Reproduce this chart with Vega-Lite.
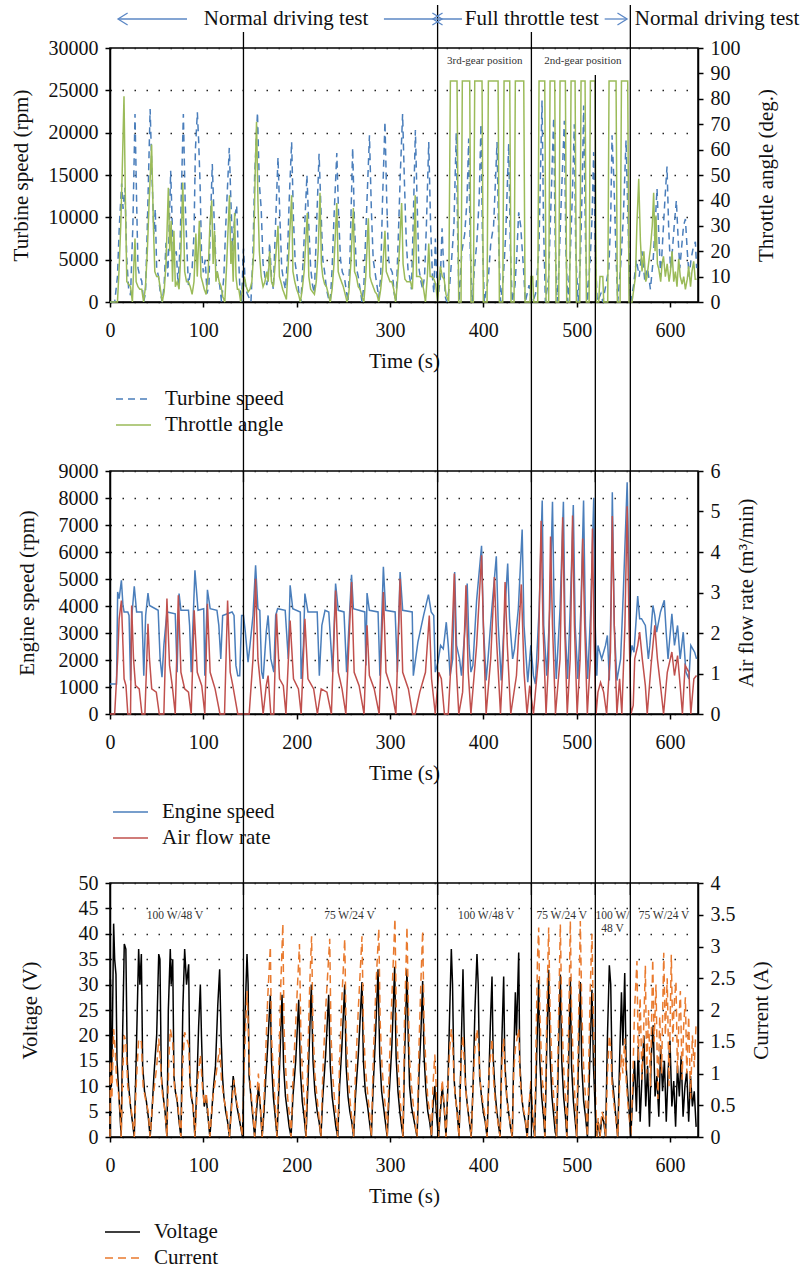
{
"$schema":"https://vega.github.io/schema/vega-lite/v6.json",
"background":"white",
"padding":{"left":9,"top":3,"right":2,"bottom":2},
"bounds":"flush",
"spacing":169,
"resolve":{"scale":{"color":"independent","strokeDash":"independent","shape":"independent"}},
"config":{
 "font":"Liberation Serif",
 "view":{"stroke":"#000","strokeWidth":1.5},
 "axis":{"labelFont":"Liberation Serif","labelFontSize":20,"labelColor":"#111","titleFont":"Liberation Serif","titleFontSize":21,"titleFontWeight":"normal","titleColor":"#111","domainColor":"#000","domainWidth":1.5,"tickColor":"#000","tickWidth":1.5,"tickSize":5,"grid":false,"gridColor":"#222","gridDash":[1.5,10.5],"gridWidth":1.3},
 "axisX":{"labelPadding":13,"titlePadding":10,"labelFlush":false},
 "axisY":{"labelPadding":7,"titlePadding":12},
 "legend":{"title":null,"orient":"none","direction":"vertical","symbolType":"stroke","symbolSize":1225,"symbolStrokeWidth":1.5,"labelFont":"Liberation Serif","labelFontSize":21,"labelColor":"#111","labelOffset":13,"rowPadding":5,"clipHeight":20,"padding":0},
 "text":{"font":"Liberation Serif"}
},
"datasets":{
"ts":[{"t":0,"v":0},{"t":5,"v":0},{"t":8,"v":3000},{"t":10,"v":9000},{"t":12.5,"v":14000},{"t":14,"v":11000},{"t":16,"v":13500},{"t":18,"v":5000},{"t":20,"v":1500},{"t":22,"v":800},{"t":24.5,"v":9000},{"t":26.8,"v":22200},{"t":28.5,"v":12000},{"t":30,"v":4000},{"t":32,"v":3000},{"t":34,"v":2500},{"t":36,"v":0},{"t":38,"v":1000},{"t":40,"v":9000},{"t":43,"v":22800},{"t":45,"v":15000},{"t":47,"v":8000},{"t":48.5,"v":11000},{"t":50,"v":4000},{"t":52,"v":3000},{"t":54,"v":1000},{"t":56,"v":0},{"t":58,"v":2000},{"t":60,"v":7000},{"t":62,"v":3000},{"t":63.5,"v":9000},{"t":65,"v":15500},{"t":67,"v":8000},{"t":69,"v":5000},{"t":71,"v":6000},{"t":73,"v":2000},{"t":75,"v":6500},{"t":78.6,"v":22200},{"t":80.5,"v":12000},{"t":82.5,"v":6000},{"t":84,"v":2000},{"t":86,"v":3500},{"t":88,"v":4000},{"t":90,"v":8000},{"t":91.5,"v":18000},{"t":93.6,"v":22400},{"t":95,"v":19000},{"t":96.5,"v":14000},{"t":98,"v":6000},{"t":100,"v":3500},{"t":102,"v":5000},{"t":104,"v":1000},{"t":106,"v":2000},{"t":107.5,"v":9000},{"t":109.6,"v":16300},{"t":111.5,"v":10000},{"t":113.5,"v":4500},{"t":115.5,"v":3000},{"t":117.5,"v":2000},{"t":119.5,"v":0},{"t":122,"v":3000},{"t":124,"v":9000},{"t":127.8,"v":18200},{"t":129.5,"v":12000},{"t":131.5,"v":6000},{"t":133.5,"v":10000},{"t":135.7,"v":11400},{"t":137.5,"v":6000},{"t":139,"v":2000},{"t":141,"v":0},{"t":143,"v":6300},{"t":145,"v":2000},{"t":147,"v":1000},{"t":149,"v":500},{"t":151,"v":0},{"t":153,"v":5000},{"t":155,"v":15000},{"t":158,"v":22400},{"t":160,"v":14000},{"t":162,"v":11000},{"t":164,"v":4500},{"t":166,"v":3000},{"t":168,"v":2000},{"t":170,"v":4000},{"t":171,"v":7000},{"t":173,"v":3000},{"t":175,"v":1500},{"t":177,"v":8000},{"t":180,"v":17100},{"t":182,"v":10000},{"t":184,"v":4000},{"t":186,"v":2500},{"t":188,"v":1500},{"t":190,"v":5000},{"t":192,"v":12000},{"t":194.6,"v":18900},{"t":196.5,"v":10000},{"t":198.5,"v":4500},{"t":200.5,"v":3000},{"t":202.5,"v":1000},{"t":204.5,"v":0},{"t":207,"v":5000},{"t":209,"v":10000},{"t":211,"v":15000},{"t":213,"v":9000},{"t":215,"v":4000},{"t":217,"v":2000},{"t":219,"v":1000},{"t":221,"v":8000},{"t":224,"v":17500},{"t":226,"v":11000},{"t":228,"v":5000},{"t":230,"v":3500},{"t":232,"v":1500},{"t":234,"v":500},{"t":236,"v":0},{"t":238,"v":4000},{"t":240,"v":10000},{"t":243,"v":17600},{"t":245,"v":10000},{"t":247,"v":5000},{"t":249,"v":3500},{"t":251,"v":3000},{"t":253,"v":1500},{"t":255,"v":0},{"t":257,"v":5000},{"t":260,"v":18200},{"t":262,"v":9000},{"t":264,"v":4000},{"t":266,"v":3000},{"t":268,"v":1500},{"t":270,"v":0},{"t":272,"v":2000},{"t":274,"v":8000},{"t":278,"v":19700},{"t":280,"v":11000},{"t":282,"v":5000},{"t":284,"v":3500},{"t":286,"v":2000},{"t":288,"v":500},{"t":290,"v":3000},{"t":292,"v":12000},{"t":294.6,"v":21300},{"t":296.5,"v":12000},{"t":298.5,"v":5000},{"t":300.5,"v":4000},{"t":302.5,"v":3500},{"t":304.5,"v":1000},{"t":306.5,"v":0},{"t":309,"v":8000},{"t":311,"v":15000},{"t":313.5,"v":22200},{"t":315.5,"v":14000},{"t":317.5,"v":7000},{"t":319.5,"v":3500},{"t":321,"v":3000},{"t":323,"v":1500},{"t":325,"v":10000},{"t":327.2,"v":20300},{"t":329,"v":12000},{"t":331,"v":4000},{"t":333,"v":2500},{"t":335,"v":1500},{"t":337,"v":3000},{"t":339,"v":9000},{"t":341.5,"v":18900},{"t":343.5,"v":9000},{"t":345.5,"v":3000},{"t":347,"v":1000},{"t":348.6,"v":7500},{"t":350,"v":3000},{"t":352,"v":1000},{"t":354,"v":3000},{"t":355.8,"v":8700},{"t":357.5,"v":4000},{"t":359.5,"v":500},{"t":361,"v":0},{"t":364,"v":2000},{"t":366,"v":5000},{"t":368.5,"v":9000},{"t":371,"v":20000},{"t":372.5,"v":8000},{"t":374,"v":0},{"t":377,"v":6000},{"t":380,"v":8000},{"t":382.5,"v":12000},{"t":384.3,"v":19300},{"t":386,"v":6000},{"t":388,"v":0},{"t":390.5,"v":4000},{"t":393,"v":7000},{"t":395.5,"v":12000},{"t":397.5,"v":21000},{"t":399,"v":8000},{"t":401,"v":0},{"t":405.5,"v":3000},{"t":408,"v":7000},{"t":411,"v":9000},{"t":414.7,"v":18900},{"t":416.5,"v":7000},{"t":418.5,"v":0},{"t":421.5,"v":3000},{"t":424,"v":8000},{"t":427.2,"v":18700},{"t":429,"v":6000},{"t":431,"v":0},{"t":434,"v":2000},{"t":436,"v":6000},{"t":437.9,"v":10600},{"t":440,"v":9000},{"t":443,"v":4000},{"t":445,"v":0},{"t":447,"v":1000},{"t":449,"v":2000},{"t":451,"v":500},{"t":453,"v":0},{"t":456,"v":1000},{"t":459.5,"v":6000},{"t":461,"v":14000},{"t":462.9,"v":23800},{"t":464.5,"v":9000},{"t":466.5,"v":0},{"t":470,"v":3000},{"t":472,"v":10000},{"t":475.4,"v":21800},{"t":477,"v":7000},{"t":479,"v":0},{"t":481,"v":4000},{"t":483.5,"v":12000},{"t":486.8,"v":21400},{"t":488.5,"v":6000},{"t":490.5,"v":0},{"t":493,"v":5000},{"t":495.5,"v":13000},{"t":497.5,"v":21000},{"t":499,"v":6000},{"t":501.5,"v":0},{"t":504,"v":5000},{"t":506,"v":14000},{"t":507.5,"v":23200},{"t":509.5,"v":7000},{"t":511.5,"v":0},{"t":514.5,"v":5000},{"t":516.5,"v":10000},{"t":518.2,"v":17700},{"t":520,"v":6000},{"t":522,"v":0},{"t":526,"v":1000},{"t":528,"v":0},{"t":534.5,"v":4000},{"t":536.5,"v":10000},{"t":537.9,"v":19700},{"t":540,"v":14000},{"t":542,"v":6000},{"t":544,"v":0},{"t":547,"v":4000},{"t":550,"v":10000},{"t":552.9,"v":19100},{"t":554.5,"v":12000},{"t":556.5,"v":3000},{"t":558,"v":0},{"t":561,"v":2000},{"t":564,"v":5000},{"t":567,"v":3000},{"t":570,"v":6000},{"t":573,"v":2500},{"t":576,"v":4000},{"t":579,"v":1500},{"t":582,"v":5000},{"t":584,"v":9000},{"t":586.1,"v":13400},{"t":588,"v":8000},{"t":590,"v":3000},{"t":592,"v":7000},{"t":594.5,"v":12000},{"t":596.8,"v":16000},{"t":598.5,"v":9000},{"t":600.5,"v":4000},{"t":602.5,"v":6000},{"t":604.5,"v":9000},{"t":606.8,"v":12000},{"t":608.5,"v":8000},{"t":610.5,"v":4000},{"t":612.5,"v":6500},{"t":614.5,"v":9000},{"t":616.5,"v":9800},{"t":618.5,"v":6000},{"t":620.5,"v":3000},{"t":622.5,"v":5000},{"t":625,"v":6500},{"t":627.2,"v":7100},{"t":628.5,"v":4000}],
"ta":[{"t":0,"v":0},{"t":8,"v":0},{"t":10,"v":15},{"t":11.5,"v":30},{"t":13,"v":50},{"t":15,"v":81},{"t":16.5,"v":40},{"t":18,"v":8},{"t":20,"v":7},{"t":22,"v":6},{"t":24,"v":0},{"t":25,"v":10},{"t":26.8,"v":25},{"t":28,"v":8},{"t":30,"v":6},{"t":32,"v":5},{"t":34,"v":5},{"t":36,"v":0},{"t":38,"v":6},{"t":40,"v":20},{"t":42,"v":40},{"t":44.6,"v":62},{"t":46.5,"v":30},{"t":48,"v":12},{"t":50,"v":10},{"t":52,"v":10},{"t":54,"v":5},{"t":56,"v":0},{"t":58,"v":4},{"t":60,"v":15},{"t":62.5,"v":45},{"t":64,"v":20},{"t":65.5,"v":32},{"t":67,"v":8},{"t":68.5,"v":28},{"t":70,"v":6},{"t":72,"v":8},{"t":74,"v":5},{"t":76,"v":20},{"t":78,"v":47},{"t":80,"v":12},{"t":82,"v":8},{"t":84,"v":8},{"t":86,"v":6},{"t":88,"v":3},{"t":90,"v":8},{"t":92,"v":27},{"t":93.5,"v":10},{"t":95.7,"v":32},{"t":97.5,"v":10},{"t":99,"v":8},{"t":101,"v":5},{"t":103,"v":3},{"t":105,"v":10},{"t":107,"v":30},{"t":109,"v":40},{"t":110.5,"v":15},{"t":112,"v":28},{"t":113.5,"v":8},{"t":115,"v":12},{"t":117,"v":8},{"t":119,"v":6},{"t":121,"v":2},{"t":123,"v":0},{"t":125,"v":15},{"t":128,"v":42},{"t":129.5,"v":15},{"t":130.5,"v":24},{"t":132,"v":8},{"t":133.5,"v":35},{"t":135,"v":10},{"t":136.5,"v":5},{"t":138,"v":5},{"t":140,"v":0},{"t":142,"v":5},{"t":144,"v":10},{"t":146,"v":6},{"t":148,"v":4},{"t":150,"v":5},{"t":152,"v":8},{"t":154,"v":20},{"t":155.5,"v":50},{"t":157,"v":71},{"t":158.5,"v":40},{"t":160,"v":20},{"t":162,"v":10},{"t":164,"v":6},{"t":166,"v":8},{"t":168,"v":12},{"t":169.5,"v":8},{"t":171,"v":20},{"t":173,"v":8},{"t":175,"v":6},{"t":177,"v":15},{"t":180,"v":30},{"t":181.5,"v":10},{"t":183,"v":8},{"t":185,"v":5},{"t":187,"v":3},{"t":189,"v":1},{"t":191,"v":15},{"t":194.6,"v":42},{"t":196,"v":12},{"t":198,"v":8},{"t":200,"v":5},{"t":202,"v":3},{"t":204,"v":0},{"t":206,"v":5},{"t":208,"v":12},{"t":211.4,"v":35},{"t":213,"v":10},{"t":215,"v":5},{"t":217,"v":4},{"t":219,"v":3},{"t":221,"v":8},{"t":223,"v":20},{"t":225,"v":43},{"t":226.5,"v":15},{"t":228,"v":10},{"t":230,"v":7},{"t":232,"v":6},{"t":234,"v":3},{"t":236,"v":0},{"t":238,"v":5},{"t":240,"v":15},{"t":243,"v":39},{"t":244.5,"v":12},{"t":246,"v":10},{"t":248,"v":8},{"t":250,"v":6},{"t":252,"v":3},{"t":254,"v":0},{"t":256,"v":4},{"t":258,"v":15},{"t":260.7,"v":37},{"t":262,"v":12},{"t":264,"v":10},{"t":266,"v":6},{"t":268,"v":5},{"t":270,"v":2},{"t":272,"v":0},{"t":274,"v":10},{"t":276.8,"v":33},{"t":278.5,"v":10},{"t":280,"v":8},{"t":282,"v":6},{"t":284,"v":4},{"t":286,"v":3},{"t":288,"v":0},{"t":290,"v":5},{"t":292,"v":12},{"t":294.6,"v":28},{"t":296,"v":12},{"t":298,"v":10},{"t":300,"v":8},{"t":302,"v":8},{"t":304,"v":5},{"t":306,"v":0},{"t":308,"v":8},{"t":310,"v":20},{"t":312.5,"v":39},{"t":314,"v":15},{"t":316,"v":9},{"t":318,"v":8},{"t":320,"v":8},{"t":322,"v":8},{"t":324,"v":5},{"t":325.5,"v":20},{"t":327,"v":42},{"t":328.5,"v":10},{"t":330,"v":10},{"t":332,"v":10},{"t":334,"v":9},{"t":336,"v":5},{"t":338,"v":0},{"t":340,"v":10},{"t":341.5,"v":23},{"t":343,"v":10},{"t":345,"v":10},{"t":347,"v":9},{"t":349,"v":7},{"t":351,"v":0},{"t":352.5,"v":8},{"t":354,"v":14},{"t":356,"v":10},{"t":358,"v":9},{"t":360,"v":3},{"t":362.9,"v":0},{"t":364.7,"v":87},{"t":371.8,"v":87},{"t":373.6,"v":0},{"t":376.1,"v":0},{"t":377.5,"v":87},{"t":385.4,"v":87},{"t":386.8,"v":0},{"t":389.3,"v":0},{"t":390.8,"v":87},{"t":398.6,"v":87},{"t":400,"v":0},{"t":404,"v":0},{"t":405.4,"v":87},{"t":415.8,"v":87},{"t":417.2,"v":0},{"t":420.8,"v":0},{"t":422.2,"v":87},{"t":428.3,"v":87},{"t":429.7,"v":0},{"t":432.9,"v":0},{"t":434.3,"v":87},{"t":443.3,"v":87},{"t":444.7,"v":0},{"t":450,"v":0},{"t":451,"v":10},{"t":452.9,"v":10},{"t":454,"v":0},{"t":458.3,"v":0},{"t":459.7,"v":87},{"t":465.8,"v":87},{"t":467.2,"v":0},{"t":470,"v":0},{"t":471.5,"v":87},{"t":476.5,"v":87},{"t":477.9,"v":0},{"t":480.8,"v":0},{"t":482.2,"v":87},{"t":487.9,"v":87},{"t":489.3,"v":0},{"t":492.5,"v":0},{"t":494,"v":87},{"t":498.3,"v":87},{"t":499.7,"v":0},{"t":503.3,"v":0},{"t":504.7,"v":87},{"t":509,"v":87},{"t":510.4,"v":0},{"t":513.3,"v":0},{"t":514.7,"v":87},{"t":519.7,"v":87},{"t":521.1,"v":0},{"t":523.6,"v":0},{"t":525,"v":10},{"t":528,"v":10},{"t":529,"v":0},{"t":533.3,"v":0},{"t":534.7,"v":87},{"t":542.2,"v":87},{"t":543.6,"v":0},{"t":546.5,"v":0},{"t":548,"v":87},{"t":554.7,"v":87},{"t":556.1,"v":0},{"t":559.3,"v":0},{"t":563,"v":10},{"t":564.5,"v":30},{"t":566.5,"v":48.5},{"t":568.3,"v":24},{"t":570,"v":12},{"t":572,"v":20},{"t":574,"v":8},{"t":575.4,"v":10},{"t":577,"v":15},{"t":579,"v":21},{"t":581,"v":30},{"t":582.5,"v":43},{"t":584,"v":20},{"t":585,"v":34},{"t":586.5,"v":15},{"t":588,"v":13},{"t":590,"v":8},{"t":591.5,"v":15},{"t":593,"v":18},{"t":595,"v":10},{"t":597,"v":15},{"t":599,"v":8},{"t":600.5,"v":12},{"t":602.2,"v":20},{"t":604,"v":8},{"t":605.8,"v":12},{"t":607.5,"v":6},{"t":609.3,"v":17},{"t":611,"v":10},{"t":613,"v":7},{"t":614.7,"v":10},{"t":616.5,"v":5},{"t":618.5,"v":9},{"t":620,"v":14},{"t":622,"v":6},{"t":623.5,"v":12},{"t":625.4,"v":16},{"t":627,"v":9},{"t":628.5,"v":9}],
"es":[{"t":0,"v":1110},{"t":2.9,"v":1110},{"t":7,"v":1110},{"t":8.2,"v":4520},{"t":9.8,"v":4270},{"t":12.2,"v":4950},{"t":13.9,"v":4020},{"t":15.1,"v":3780},{"t":19.1,"v":3780},{"t":20.4,"v":3650},{"t":22,"v":1240},{"t":23.2,"v":3530},{"t":26,"v":4730},{"t":28.5,"v":3780},{"t":34.2,"v":3780},{"t":36.2,"v":1420},{"t":38.2,"v":3650},{"t":40.7,"v":4480},{"t":42.3,"v":4020},{"t":51.6,"v":3840},{"t":53.7,"v":2040},{"t":55.7,"v":1360},{"t":57.7,"v":2540},{"t":61,"v":3780},{"t":69.9,"v":3710},{"t":71.9,"v":1550},{"t":74,"v":4460},{"t":76,"v":3840},{"t":84.1,"v":3840},{"t":85.3,"v":3280},{"t":87,"v":1550},{"t":91,"v":5320},{"t":94.3,"v":3840},{"t":100.4,"v":3900},{"t":101.6,"v":1420},{"t":104.4,"v":4600},{"t":107.3,"v":3900},{"t":114.6,"v":3840},{"t":116.6,"v":3280},{"t":118.7,"v":2040},{"t":120.7,"v":3650},{"t":130.8,"v":3780},{"t":132.9,"v":3650},{"t":134.9,"v":1800},{"t":136.9,"v":1420},{"t":139,"v":1420},{"t":141,"v":3650},{"t":143,"v":3650},{"t":145,"v":3030},{"t":147.9,"v":1920},{"t":150,"v":2540},{"t":153.2,"v":3650},{"t":156,"v":5510},{"t":158.5,"v":3900},{"t":160.5,"v":3840},{"t":162.5,"v":1550},{"t":164.1,"v":1300},{"t":167.4,"v":3030},{"t":169.4,"v":3650},{"t":172.3,"v":2040},{"t":175.5,"v":1550},{"t":177.5,"v":3650},{"t":179.6,"v":3900},{"t":187.7,"v":3840},{"t":191,"v":2040},{"t":193,"v":4770},{"t":195.8,"v":3900},{"t":203.9,"v":3780},{"t":204.8,"v":1300},{"t":207.2,"v":2540},{"t":208.8,"v":4460},{"t":212.1,"v":3780},{"t":222,"v":3780},{"t":224.3,"v":1420},{"t":227,"v":3280},{"t":230.4,"v":3840},{"t":234.4,"v":3780},{"t":238.5,"v":1550},{"t":241.7,"v":4830},{"t":244.6,"v":3840},{"t":250.7,"v":3780},{"t":253.5,"v":1550},{"t":258.8,"v":5160},{"t":260.8,"v":3900},{"t":273,"v":3780},{"t":274.2,"v":1800},{"t":275.4,"v":4480},{"t":277.9,"v":3840},{"t":287.2,"v":3780},{"t":289.2,"v":1420},{"t":292.9,"v":5450},{"t":295.3,"v":3840},{"t":305.5,"v":3780},{"t":307.9,"v":1550},{"t":310.8,"v":5260},{"t":313.6,"v":3840},{"t":323.8,"v":3780},{"t":325,"v":1420},{"t":329.9,"v":2660},{"t":336,"v":3650},{"t":341.2,"v":4420},{"t":344.1,"v":3780},{"t":346.9,"v":3650},{"t":348.5,"v":1550},{"t":351.4,"v":1920},{"t":354.2,"v":2540},{"t":357.1,"v":2410},{"t":360.3,"v":3400},{"t":362.4,"v":2540},{"t":364.4,"v":1420},{"t":367.2,"v":2040},{"t":369.3,"v":5260},{"t":371.3,"v":2540},{"t":374.5,"v":2040},{"t":376.6,"v":1420},{"t":380.6,"v":3280},{"t":382.7,"v":4830},{"t":384.7,"v":2540},{"t":386.7,"v":1550},{"t":388.8,"v":1800},{"t":392.8,"v":4210},{"t":398.1,"v":6230},{"t":400.1,"v":3280},{"t":403,"v":1240},{"t":405,"v":2040},{"t":409.1,"v":3900},{"t":413.9,"v":5840},{"t":416,"v":3280},{"t":419.2,"v":1240},{"t":422.1,"v":3280},{"t":426.1,"v":5570},{"t":428.1,"v":3530},{"t":431.4,"v":2040},{"t":433.4,"v":2410},{"t":437.5,"v":3900},{"t":441.6,"v":6830},{"t":443.6,"v":3280},{"t":447.6,"v":1180},{"t":450.9,"v":2540},{"t":453.7,"v":1420},{"t":455.8,"v":1110},{"t":459.8,"v":3900},{"t":463.1,"v":7910},{"t":464.7,"v":3280},{"t":468,"v":1420},{"t":471.2,"v":3900},{"t":474.1,"v":7860},{"t":476.1,"v":3280},{"t":478.1,"v":1300},{"t":482.2,"v":3900},{"t":485.8,"v":7860},{"t":487.5,"v":3280},{"t":490.3,"v":1300},{"t":493.1,"v":3900},{"t":496.4,"v":7740},{"t":498.4,"v":3280},{"t":501.3,"v":1300},{"t":504.5,"v":3900},{"t":507.4,"v":7910},{"t":509.4,"v":3280},{"t":511.8,"v":1300},{"t":515.1,"v":3900},{"t":518.3,"v":8010},{"t":519.9,"v":3280},{"t":521.6,"v":1420},{"t":522.8,"v":2540},{"t":526.8,"v":2040},{"t":530.9,"v":2540},{"t":532.9,"v":2910},{"t":535,"v":1240},{"t":537,"v":4520},{"t":538.2,"v":8210},{"t":540.3,"v":3280},{"t":543.1,"v":1240},{"t":547.1,"v":2040},{"t":550,"v":4520},{"t":554.1,"v":8580},{"t":555.7,"v":5760},{"t":557.3,"v":2040},{"t":559.3,"v":2540},{"t":561.4,"v":2290},{"t":565.4,"v":4370},{"t":567.5,"v":3530},{"t":569.5,"v":3530},{"t":573.6,"v":3280},{"t":576.8,"v":2040},{"t":578.4,"v":2540},{"t":581.7,"v":4020},{"t":583.7,"v":3650},{"t":585.7,"v":3030},{"t":589.8,"v":3780},{"t":593.9,"v":4210},{"t":595.9,"v":3030},{"t":597.9,"v":2040},{"t":602,"v":3710},{"t":604.8,"v":2540},{"t":608.1,"v":3280},{"t":610.9,"v":2040},{"t":614.2,"v":3030},{"t":617,"v":1550},{"t":620.3,"v":1300},{"t":622.3,"v":2540},{"t":626.4,"v":2290},{"t":628.4,"v":2040}],
"af":[{"t":0,"v":0},{"t":5,"v":0},{"t":8.2,"v":1.36},{"t":9.8,"v":2.35},{"t":12.2,"v":2.8},{"t":13.9,"v":1.69},{"t":15.1,"v":0.87},{"t":17.1,"v":0.7},{"t":19.1,"v":0},{"t":22,"v":0},{"t":23.2,"v":2.68},{"t":25.2,"v":1.36},{"t":27.3,"v":0.7},{"t":31.3,"v":0.62},{"t":34.2,"v":0},{"t":37.4,"v":0},{"t":40.7,"v":2.23},{"t":42.3,"v":1.36},{"t":44.7,"v":0.62},{"t":49.6,"v":0.54},{"t":52.8,"v":0},{"t":57.7,"v":0},{"t":61,"v":2.85},{"t":63.8,"v":1.2},{"t":66.7,"v":0.7},{"t":69.9,"v":0},{"t":73.2,"v":2.93},{"t":76,"v":1.03},{"t":80,"v":0.62},{"t":84.1,"v":0.54},{"t":87,"v":0},{"t":90.2,"v":2.56},{"t":93.5,"v":1.03},{"t":98.3,"v":0.7},{"t":101.6,"v":0},{"t":104.4,"v":2.72},{"t":107.3,"v":1.03},{"t":112.6,"v":0.62},{"t":117.8,"v":0},{"t":122.7,"v":0},{"t":126,"v":2.8},{"t":128.8,"v":1.03},{"t":131.6,"v":0.7},{"t":136.9,"v":0},{"t":149.1,"v":0},{"t":153.2,"v":1.36},{"t":156,"v":3.34},{"t":158.5,"v":1.36},{"t":161.3,"v":0.7},{"t":164.1,"v":0},{"t":167.4,"v":0.7},{"t":169.4,"v":0.95},{"t":172.3,"v":0},{"t":175.5,"v":0},{"t":178.4,"v":2.48},{"t":181.6,"v":0.87},{"t":185.7,"v":0.7},{"t":188.5,"v":0},{"t":193,"v":2.31},{"t":196.6,"v":0.87},{"t":201.9,"v":0.62},{"t":204.8,"v":0},{"t":208.8,"v":2.35},{"t":212.1,"v":0.87},{"t":218.2,"v":0.62},{"t":222.2,"v":0},{"t":226.3,"v":0.62},{"t":232.4,"v":0.54},{"t":237.2,"v":0},{"t":241.7,"v":3.05},{"t":244.6,"v":1.03},{"t":248.6,"v":0.62},{"t":252.7,"v":0},{"t":258.8,"v":3.26},{"t":261.6,"v":1.03},{"t":266.9,"v":0.7},{"t":272.2,"v":0},{"t":275.4,"v":2.19},{"t":277.9,"v":0.95},{"t":283.1,"v":0.62},{"t":288.4,"v":0},{"t":292.9,"v":3.01},{"t":295.7,"v":1.03},{"t":301.4,"v":0.62},{"t":306.3,"v":0},{"t":310.8,"v":3.34},{"t":313.6,"v":1.03},{"t":319.7,"v":0.62},{"t":324.2,"v":0},{"t":327,"v":0},{"t":331.9,"v":0.54},{"t":338,"v":1.03},{"t":342.1,"v":2.43},{"t":344.5,"v":0.87},{"t":348.5,"v":0},{"t":352.2,"v":1.03},{"t":355,"v":0.87},{"t":358.3,"v":0},{"t":362.4,"v":0},{"t":365.6,"v":1.36},{"t":368.9,"v":3.47},{"t":371.3,"v":1.03},{"t":373.7,"v":0},{"t":377.8,"v":0.54},{"t":381.4,"v":3.18},{"t":383.8,"v":1.03},{"t":386.7,"v":0},{"t":392.8,"v":1.69},{"t":398.1,"v":3.92},{"t":400.6,"v":1.69},{"t":403,"v":0},{"t":407.9,"v":1.36},{"t":411.9,"v":3.38},{"t":414.3,"v":1.77},{"t":418.4,"v":0},{"t":421.2,"v":1.36},{"t":423.3,"v":3.26},{"t":425.7,"v":1.69},{"t":429.4,"v":0},{"t":435.5,"v":0.95},{"t":440.7,"v":3.2},{"t":443.6,"v":1.03},{"t":446.8,"v":0},{"t":449.7,"v":0.7},{"t":453.7,"v":0},{"t":459,"v":1.36},{"t":461.9,"v":4.77},{"t":463.9,"v":2.19},{"t":467.2,"v":0},{"t":470,"v":1.36},{"t":472,"v":4.38},{"t":474.1,"v":2.19},{"t":477.3,"v":0},{"t":482.2,"v":1.36},{"t":485,"v":4.86},{"t":487.1,"v":2.19},{"t":489.9,"v":0},{"t":493.1,"v":1.36},{"t":495.6,"v":4.9},{"t":497.6,"v":2.19},{"t":500.5,"v":0},{"t":503.7,"v":1.36},{"t":506.5,"v":4.33},{"t":508.6,"v":2.19},{"t":511.4,"v":0},{"t":514.7,"v":1.36},{"t":516.9,"v":4.58},{"t":518.7,"v":1.77},{"t":520.8,"v":0},{"t":522.8,"v":0.54},{"t":525.6,"v":0.78},{"t":528.9,"v":0.54},{"t":532.1,"v":0},{"t":536.2,"v":1.53},{"t":538.2,"v":4.89},{"t":540.3,"v":2.19},{"t":543.1,"v":0},{"t":546,"v":0.87},{"t":548.4,"v":0},{"t":551.7,"v":2.19},{"t":554.1,"v":5.13},{"t":556.1,"v":2.19},{"t":558.1,"v":0},{"t":560.6,"v":0.21},{"t":562.2,"v":1.36},{"t":565.4,"v":1.69},{"t":567.5,"v":2.02},{"t":570.3,"v":1.36},{"t":573.6,"v":0.7},{"t":575.6,"v":0},{"t":579.7,"v":1.2},{"t":583.7,"v":2.19},{"t":586.5,"v":1.36},{"t":589.8,"v":0.7},{"t":593.1,"v":0},{"t":597.1,"v":1.03},{"t":602,"v":1.53},{"t":604.8,"v":0.95},{"t":608.1,"v":1.44},{"t":610.9,"v":0.7},{"t":613.3,"v":0},{"t":616.2,"v":1.2},{"t":620.3,"v":1.03},{"t":622.3,"v":0},{"t":625.6,"v":0.87},{"t":628.4,"v":0.95}],
"vo":[{"t":0,"v":0},{"t":0.5,"v":31},{"t":1.5,"v":10},{"t":2.5,"v":20},{"t":3.9,"v":42},{"t":5,"v":35},{"t":6.4,"v":32},{"t":7.5,"v":15},{"t":9,"v":10},{"t":10.5,"v":5},{"t":12,"v":0},{"t":13.5,"v":20},{"t":15.3,"v":38},{"t":17,"v":37},{"t":18.5,"v":15},{"t":20,"v":10},{"t":22,"v":6},{"t":24,"v":3},{"t":26,"v":0},{"t":28,"v":15},{"t":30.7,"v":37},{"t":32,"v":30},{"t":33.6,"v":36},{"t":35,"v":14},{"t":37,"v":9},{"t":39,"v":7},{"t":41,"v":4},{"t":43,"v":0},{"t":45,"v":5},{"t":47,"v":12},{"t":50,"v":20},{"t":52.2,"v":36},{"t":53.5,"v":35},{"t":55,"v":12},{"t":57,"v":8},{"t":59,"v":5},{"t":61,"v":0},{"t":62.5,"v":25},{"t":64.6,"v":37},{"t":65.5,"v":30},{"t":67.2,"v":35},{"t":68.5,"v":12},{"t":70,"v":9},{"t":72,"v":7},{"t":74,"v":3},{"t":76,"v":0},{"t":78,"v":25},{"t":80,"v":37},{"t":82,"v":30},{"t":84.3,"v":34},{"t":85.5,"v":12},{"t":87,"v":8},{"t":89,"v":6},{"t":91,"v":0},{"t":93,"v":10},{"t":95,"v":22},{"t":96.8,"v":30},{"t":98,"v":20},{"t":99.5,"v":10},{"t":101,"v":6},{"t":103,"v":8},{"t":105,"v":4},{"t":107,"v":0},{"t":109,"v":5},{"t":111,"v":10},{"t":113,"v":14},{"t":115.5,"v":26},{"t":117.5,"v":33},{"t":119,"v":20},{"t":120.5,"v":12},{"t":122,"v":8},{"t":124,"v":5},{"t":126,"v":3},{"t":128,"v":0},{"t":130,"v":6},{"t":132,"v":12},{"t":134,"v":9},{"t":136,"v":6},{"t":138,"v":4},{"t":140,"v":2},{"t":142,"v":0},{"t":144,"v":20},{"t":146.8,"v":36},{"t":148,"v":30},{"t":149,"v":12},{"t":151,"v":8},{"t":153,"v":4},{"t":155,"v":0},{"t":157,"v":5},{"t":159,"v":10},{"t":161,"v":6},{"t":163,"v":0},{"t":165,"v":5},{"t":167,"v":12},{"t":169,"v":18},{"t":171.8,"v":28},{"t":173,"v":15},{"t":175,"v":8},{"t":177,"v":4},{"t":179,"v":0},{"t":181,"v":10},{"t":184.3,"v":28},{"t":186,"v":14},{"t":188,"v":8},{"t":190,"v":5},{"t":192,"v":2},{"t":194,"v":0},{"t":196,"v":8},{"t":199,"v":15},{"t":202.2,"v":27},{"t":204,"v":13},{"t":206,"v":7},{"t":208,"v":4},{"t":210,"v":0},{"t":212,"v":10},{"t":215.7,"v":30},{"t":217.5,"v":15},{"t":219.5,"v":9},{"t":222,"v":5},{"t":224,"v":3},{"t":226,"v":0},{"t":228,"v":8},{"t":231,"v":16},{"t":234.3,"v":28},{"t":236,"v":14},{"t":238,"v":8},{"t":240,"v":5},{"t":242,"v":2},{"t":244,"v":0},{"t":246,"v":10},{"t":248.5,"v":18},{"t":251.5,"v":30},{"t":253,"v":14},{"t":255,"v":8},{"t":257,"v":5},{"t":259,"v":3},{"t":261,"v":0},{"t":263,"v":8},{"t":266,"v":16},{"t":270,"v":30.5},{"t":271.5,"v":15},{"t":273.5,"v":9},{"t":276,"v":6},{"t":278,"v":3},{"t":280,"v":0},{"t":282,"v":10},{"t":284.5,"v":20},{"t":287.2,"v":33},{"t":289,"v":16},{"t":291,"v":9},{"t":293,"v":6},{"t":295,"v":3},{"t":297,"v":0},{"t":299,"v":8},{"t":302,"v":18},{"t":305,"v":33.5},{"t":306.5,"v":16},{"t":308.5,"v":9},{"t":310.5,"v":5},{"t":312.5,"v":2},{"t":314,"v":0},{"t":315.5,"v":15},{"t":318.2,"v":33},{"t":319.5,"v":20},{"t":321,"v":10},{"t":323,"v":6},{"t":325,"v":4},{"t":327,"v":2},{"t":329,"v":0},{"t":331,"v":12},{"t":333,"v":20},{"t":335,"v":30.7},{"t":336.5,"v":16},{"t":338.5,"v":9},{"t":340.5,"v":5},{"t":342.5,"v":3},{"t":344.5,"v":0},{"t":346,"v":6},{"t":348,"v":10},{"t":350,"v":4},{"t":352,"v":0},{"t":354,"v":5},{"t":356,"v":10},{"t":358,"v":6},{"t":360,"v":0},{"t":362,"v":10},{"t":364,"v":25},{"t":365.7,"v":37},{"t":367,"v":30},{"t":368.5,"v":12},{"t":370,"v":8},{"t":372,"v":5},{"t":374,"v":0},{"t":376,"v":15},{"t":378.2,"v":33},{"t":379.5,"v":20},{"t":381,"v":10},{"t":383,"v":6},{"t":385,"v":3},{"t":387,"v":0},{"t":389,"v":10},{"t":391,"v":25},{"t":393.2,"v":36},{"t":394.5,"v":30},{"t":396,"v":12},{"t":398,"v":8},{"t":400,"v":5},{"t":402,"v":3},{"t":404,"v":0},{"t":406,"v":12},{"t":407.5,"v":22},{"t":409.3,"v":31.6},{"t":410.5,"v":16},{"t":412.5,"v":9},{"t":414.5,"v":5},{"t":416.5,"v":2},{"t":418,"v":0},{"t":420,"v":20},{"t":421.8,"v":31.6},{"t":423,"v":15},{"t":425,"v":8},{"t":427,"v":5},{"t":429,"v":2},{"t":431,"v":0},{"t":432.5,"v":15},{"t":434.3,"v":28.5},{"t":435.5,"v":20},{"t":437.9,"v":36.3},{"t":439,"v":15},{"t":441,"v":8},{"t":443,"v":5},{"t":445,"v":3},{"t":447,"v":0},{"t":449,"v":6},{"t":451,"v":10},{"t":453,"v":3},{"t":455,"v":0},{"t":457,"v":15},{"t":459.3,"v":30.9},{"t":460.5,"v":15},{"t":462.5,"v":8},{"t":464.5,"v":4},{"t":466,"v":0},{"t":468,"v":18},{"t":470,"v":32.9},{"t":471.5,"v":16},{"t":473.5,"v":8},{"t":475.5,"v":4},{"t":477,"v":1},{"t":478.5,"v":0},{"t":480.5,"v":16},{"t":482.5,"v":32},{"t":484,"v":15},{"t":486,"v":8},{"t":488,"v":4},{"t":489.5,"v":0},{"t":491.5,"v":15},{"t":493.2,"v":31.5},{"t":494.5,"v":14},{"t":496.5,"v":7},{"t":498.5,"v":3},{"t":500,"v":0},{"t":502,"v":15},{"t":503.9,"v":30.5},{"t":505.5,"v":14},{"t":507.5,"v":7},{"t":509.5,"v":4},{"t":511.5,"v":0},{"t":513,"v":8},{"t":514.5,"v":18},{"t":516.4,"v":29},{"t":518,"v":14},{"t":520,"v":5},{"t":521.5,"v":0},{"t":523,"v":3},{"t":525,"v":0},{"t":527,"v":4},{"t":529,"v":3},{"t":531,"v":0},{"t":533,"v":20},{"t":535,"v":33.8},{"t":536.5,"v":30},{"t":538,"v":12},{"t":540,"v":8},{"t":542,"v":4},{"t":544,"v":0},{"t":546,"v":15},{"t":548,"v":28.5},{"t":549.5,"v":18},{"t":551.5,"v":32.3},{"t":553,"v":14},{"t":555,"v":8},{"t":557,"v":3},{"t":558,"v":0},{"t":560,"v":8},{"t":562,"v":15},{"t":564,"v":5},{"t":566,"v":18},{"t":568,"v":3},{"t":570,"v":12},{"t":572,"v":20},{"t":574,"v":6},{"t":576,"v":14},{"t":578,"v":2},{"t":580,"v":16},{"t":582,"v":22},{"t":584,"v":8},{"t":586,"v":12},{"t":588,"v":4},{"t":590,"v":18},{"t":592,"v":9},{"t":594,"v":15},{"t":596,"v":3},{"t":598,"v":13},{"t":600,"v":19},{"t":602,"v":6},{"t":604,"v":11},{"t":606,"v":2},{"t":608,"v":14},{"t":610,"v":8},{"t":612,"v":16},{"t":614,"v":4},{"t":616,"v":10},{"t":618,"v":13},{"t":620,"v":3},{"t":622,"v":12},{"t":624,"v":6},{"t":626,"v":9},{"t":628,"v":2}],
"cu":[{"t":0,"v":0},{"t":0.5,"v":1.2},{"t":2,"v":0.6},{"t":3.9,"v":1.7},{"t":5.5,"v":1.4},{"t":7,"v":0.9},{"t":9,"v":0.7},{"t":11,"v":0.4},{"t":12,"v":0},{"t":13.5,"v":1.0},{"t":15.3,"v":1.6},{"t":17,"v":1.5},{"t":19,"v":0.8},{"t":22,"v":0.5},{"t":24,"v":0.3},{"t":26,"v":0},{"t":28,"v":0.8},{"t":30.7,"v":1.55},{"t":33.6,"v":1.5},{"t":35.5,"v":0.8},{"t":38,"v":0.6},{"t":41,"v":0.4},{"t":43,"v":0},{"t":46,"v":0.6},{"t":50,"v":1.1},{"t":52.2,"v":1.55},{"t":54,"v":1.2},{"t":56,"v":0.7},{"t":59,"v":0.4},{"t":61,"v":0},{"t":63,"v":1.2},{"t":64.6,"v":1.7},{"t":67.2,"v":1.5},{"t":69,"v":0.8},{"t":72,"v":0.6},{"t":74,"v":0.3},{"t":76,"v":0},{"t":78,"v":1.2},{"t":80,"v":1.65},{"t":84.3,"v":1.45},{"t":86,"v":0.8},{"t":89,"v":0.5},{"t":91,"v":0},{"t":94,"v":0.9},{"t":96.8,"v":1.3},{"t":99,"v":0.8},{"t":101,"v":0.5},{"t":103,"v":0.7},{"t":105,"v":0.4},{"t":107,"v":0},{"t":110,"v":0.6},{"t":113,"v":0.9},{"t":115.5,"v":1.2},{"t":117.5,"v":1.4},{"t":119.5,"v":0.9},{"t":122,"v":0.6},{"t":125,"v":0.4},{"t":128,"v":0},{"t":131,"v":0.6},{"t":133,"v":0.9},{"t":135,"v":0.6},{"t":138,"v":0.4},{"t":140,"v":0.2},{"t":142,"v":0},{"t":144,"v":1.2},{"t":146.8,"v":2.3},{"t":148,"v":1.8},{"t":149.5,"v":1.0},{"t":151,"v":0.7},{"t":153,"v":0.4},{"t":155,"v":0},{"t":157,"v":0.6},{"t":159,"v":1.0},{"t":161,"v":0.5},{"t":163,"v":0},{"t":165,"v":0.6},{"t":167,"v":1.4},{"t":169,"v":2.2},{"t":171.8,"v":3.0},{"t":173,"v":1.6},{"t":175,"v":1.0},{"t":177,"v":0.5},{"t":179,"v":0},{"t":181,"v":1.2},{"t":183,"v":2.4},{"t":185.2,"v":3.36},{"t":186.5,"v":1.7},{"t":188.5,"v":1.0},{"t":190.5,"v":0.6},{"t":192.5,"v":0.3},{"t":194,"v":0},{"t":196,"v":0.9},{"t":199,"v":1.8},{"t":203,"v":3.04},{"t":204.5,"v":1.6},{"t":206.5,"v":0.9},{"t":208.5,"v":0.5},{"t":210,"v":0},{"t":212,"v":1.3},{"t":214,"v":2.4},{"t":216,"v":3.16},{"t":217.5,"v":1.7},{"t":219.5,"v":1.0},{"t":222,"v":0.6},{"t":224,"v":0.3},{"t":226,"v":0},{"t":228,"v":1.0},{"t":231,"v":2.0},{"t":235.4,"v":3.12},{"t":236.8,"v":1.6},{"t":238.5,"v":1.0},{"t":240.5,"v":0.6},{"t":242.5,"v":0.3},{"t":244,"v":0},{"t":246,"v":1.2},{"t":248.5,"v":2.2},{"t":251.5,"v":3.12},{"t":253,"v":1.7},{"t":255,"v":1.0},{"t":257,"v":0.6},{"t":259,"v":0.3},{"t":261,"v":0},{"t":263,"v":1.0},{"t":266,"v":2.0},{"t":270,"v":3.16},{"t":271.5,"v":1.8},{"t":273.5,"v":1.1},{"t":276,"v":0.7},{"t":278,"v":0.4},{"t":280,"v":0},{"t":282,"v":1.2},{"t":285,"v":2.4},{"t":288,"v":3.28},{"t":289.5,"v":1.8},{"t":291.5,"v":1.1},{"t":293.5,"v":0.7},{"t":295.5,"v":0.4},{"t":297,"v":0},{"t":299,"v":1.0},{"t":302,"v":2.2},{"t":305.3,"v":3.44},{"t":306.8,"v":1.9},{"t":308.8,"v":1.1},{"t":310.8,"v":0.6},{"t":312.5,"v":0.3},{"t":314,"v":0},{"t":315.5,"v":1.8},{"t":318.2,"v":3.31},{"t":319.5,"v":2.2},{"t":321,"v":1.2},{"t":323,"v":0.8},{"t":325,"v":0.5},{"t":327,"v":0.2},{"t":329,"v":0},{"t":331,"v":1.4},{"t":333,"v":2.4},{"t":335,"v":3.25},{"t":336.5,"v":1.8},{"t":338.5,"v":1.1},{"t":340.5,"v":0.6},{"t":342.5,"v":0.4},{"t":344.5,"v":0},{"t":346,"v":0.8},{"t":348,"v":1.3},{"t":350,"v":0.6},{"t":352,"v":0},{"t":354,"v":0.5},{"t":356,"v":0.9},{"t":358,"v":0.5},{"t":360,"v":0},{"t":362,"v":0.8},{"t":364,"v":1.4},{"t":365.7,"v":1.7},{"t":367,"v":1.5},{"t":369,"v":0.8},{"t":371,"v":0.5},{"t":374,"v":0},{"t":376,"v":1.2},{"t":378.2,"v":1.6},{"t":380,"v":1.0},{"t":382,"v":0.6},{"t":385,"v":0.3},{"t":387,"v":0},{"t":389,"v":0.8},{"t":391,"v":1.4},{"t":393.2,"v":1.7},{"t":395,"v":1.4},{"t":397,"v":0.8},{"t":400,"v":0.5},{"t":402,"v":0.3},{"t":404,"v":0},{"t":406,"v":1.0},{"t":409.3,"v":1.55},{"t":411,"v":0.9},{"t":413,"v":0.5},{"t":416,"v":0.2},{"t":418,"v":0},{"t":420,"v":1.2},{"t":421.8,"v":1.55},{"t":423.5,"v":0.9},{"t":426,"v":0.5},{"t":429,"v":0.2},{"t":431,"v":0},{"t":432.5,"v":1.0},{"t":434.3,"v":1.4},{"t":437.9,"v":1.7},{"t":439.5,"v":0.9},{"t":442,"v":0.5},{"t":445,"v":0.3},{"t":447,"v":0},{"t":449,"v":0.5},{"t":451,"v":0.9},{"t":453,"v":0.3},{"t":455,"v":0},{"t":456.5,"v":1.5},{"t":458,"v":2.8},{"t":459.3,"v":3.3},{"t":460.5,"v":2.0},{"t":462.5,"v":1.1},{"t":464.5,"v":0.6},{"t":466,"v":0},{"t":468,"v":2.0},{"t":470,"v":3.3},{"t":471.5,"v":2.0},{"t":473.5,"v":1.1},{"t":475.5,"v":0.6},{"t":477,"v":0.3},{"t":478.5,"v":0},{"t":480.5,"v":1.8},{"t":482.5,"v":3.35},{"t":484,"v":2.0},{"t":486,"v":1.1},{"t":488,"v":0.6},{"t":489.5,"v":0},{"t":491.5,"v":1.8},{"t":493.2,"v":3.4},{"t":494.5,"v":2.0},{"t":496.5,"v":1.1},{"t":498.5,"v":0.5},{"t":500,"v":0},{"t":502,"v":1.8},{"t":503.9,"v":3.4},{"t":505.5,"v":2.0},{"t":507.5,"v":1.1},{"t":509.5,"v":0.6},{"t":511.5,"v":0},{"t":513,"v":1.2},{"t":514.5,"v":2.3},{"t":516.4,"v":3.2},{"t":518,"v":1.8},{"t":520,"v":0.8},{"t":521.5,"v":0},{"t":523,"v":0.3},{"t":525,"v":0},{"t":527,"v":0.4},{"t":529,"v":0.3},{"t":531,"v":0},{"t":533,"v":1.0},{"t":535,"v":1.6},{"t":536.5,"v":1.4},{"t":538,"v":0.8},{"t":540,"v":0.5},{"t":542,"v":0.3},{"t":544,"v":0},{"t":546,"v":0.8},{"t":548,"v":1.3},{"t":549.5,"v":1.0},{"t":551.5,"v":1.55},{"t":553,"v":0.9},{"t":555,"v":0.5},{"t":557,"v":0.2},{"t":558,"v":0},{"t":560,"v":0.8},{"t":562,"v":2.0},{"t":564.6,"v":2.77},{"t":566,"v":1.2},{"t":568,"v":2.2},{"t":570,"v":0.9},{"t":572,"v":1.8},{"t":573.6,"v":2.7},{"t":575,"v":1.0},{"t":577,"v":2.0},{"t":579,"v":0.8},{"t":581.5,"v":2.8},{"t":583,"v":1.5},{"t":585,"v":2.4},{"t":587,"v":0.6},{"t":589,"v":1.9},{"t":591,"v":1.0},{"t":593.3,"v":2.9},{"t":595,"v":1.6},{"t":597,"v":2.5},{"t":599,"v":0.8},{"t":601.4,"v":2.87},{"t":603,"v":1.5},{"t":604.5,"v":2.1},{"t":606.4,"v":2.45},{"t":608,"v":1.0},{"t":609.5,"v":1.8},{"t":611.1,"v":2.3},{"t":613,"v":0.9},{"t":614.5,"v":1.7},{"t":616.5,"v":2.2},{"t":618,"v":1.0},{"t":620,"v":1.9},{"t":622,"v":0.6},{"t":624,"v":1.6},{"t":626,"v":1.1},{"t":628,"v":1.8}]
},
"vconcat":[
{
 "width":588,"height":254,
 "resolve":{"scale":{"y":"independent"}},
 "layer":[
  {"data":{"name":"ts"},"mark":{"type":"line","strokeWidth":1.5},
   "encoding":{
    "x":{"field":"t","type":"quantitative","scale":{"domain":[0,630],"nice":false},"axis":{"values":[0,100,200,300,400,500,600],"title":"Time (s)"}},
    "y":{"field":"v","type":"quantitative","scale":{"domain":[0,30000],"nice":false},"axis":{"orient":"left","values":[0,5000,10000,15000,20000,25000,30000],"format":"d","title":"Turbine speed (rpm)","titlePadding":17,"grid":true}},
    "color":{"datum":"Turbine speed","type":"nominal","scale":{"domain":["Turbine speed","Throttle angle"],"range":["#4a7ebb","#9bbb59"]},"legend":{"legendX":5,"legendY":341}},
    "strokeDash":{"datum":"Turbine speed","type":"nominal","scale":{"domain":["Turbine speed","Throttle angle"],"range":[[7,5],[1,0]]},"legend":{"legendX":5,"legendY":341}}
   }},
  {"data":{"name":"ta"},"mark":{"type":"line","strokeWidth":1.5},
   "encoding":{
    "x":{"field":"t","type":"quantitative","scale":{"domain":[0,630],"nice":false},"axis":{"values":[0,100,200,300,400,500,600],"title":"Time (s)"}},
    "y":{"field":"v","type":"quantitative","scale":{"domain":[0,100],"nice":false},"axis":{"orient":"right","values":[0,10,20,30,40,50,60,70,80,90,100],"title":"Throttle angle (deg.)","titleAngle":270,"titleBaseline":"top","titlePadding":15,"grid":false}},
    "color":{"datum":"Throttle angle","type":"nominal"},
    "strokeDash":{"datum":"Throttle angle","type":"nominal"}
   }},
  {"layer":[
    {"data":{"values":[{"x":143,"y1":31890,"y2":-21300},{"x":351,"y1":35080,"y2":-21300},{"x":451.5,"y1":31890,"y2":-21300},{"x":520,"y1":26810,"y2":-21300},{"x":557.5,"y1":35080,"y2":-21300}]},
     "mark":{"type":"rule","color":"#000","strokeWidth":1.3},
     "encoding":{"x":{"field":"x","type":"quantitative","scale":{"domain":[0,630],"nice":false},"axis":{"values":[0,100,200,300,400,500,600],"title":"Time (s)"}},"y":{"field":"y1","type":"quantitative","scale":{"domain":[0,30000],"nice":false},"axis":null},"y2":{"field":"y2"}}},
    {"data":{"values":[{"x":9.6,"x2":82.5,"y":33425},{"x":293.5,"x2":377.1,"y":33425},{"x":530,"x2":553.9,"y":33425}]},
     "mark":{"type":"rule","color":"#5b87c5","strokeWidth":1.3},
     "encoding":{"x":{"field":"x","type":"quantitative","scale":{"domain":[0,630],"nice":false},"axis":{"values":[0,100,200,300,400,500,600],"title":"Time (s)"}},"x2":{"field":"x2"},"y":{"field":"y","type":"quantitative","scale":{"domain":[0,30000],"nice":false},"axis":null}}},
    {"data":{"values":[{"x":8.6,"y":33425,"dir":"l"},{"x":355.7,"y":33425,"dir":"r"},{"x":346,"y":33425,"dir":"l"},{"x":554,"y":33425,"dir":"r"}]},
     "mark":{"type":"point","filled":false,"color":"#5b87c5","strokeWidth":1.3,"size":144,"opacity":1},
     "encoding":{"x":{"field":"x","type":"quantitative","scale":{"domain":[0,630],"nice":false},"axis":{"values":[0,100,200,300,400,500,600],"title":"Time (s)"}},"y":{"field":"y","type":"quantitative","scale":{"domain":[0,30000],"nice":false},"axis":null},"shape":{"field":"dir","type":"nominal","scale":{"domain":["l","r"],"range":["M1.6,-1L0,0L1.6,1","M-1.6,-1L0,0L-1.6,1"]},"legend":null}}},
    {"data":{"values":[{"x":188.6,"y":33425,"label":"Normal driving test"},{"x":452,"y":33425,"label":"Full throttle test"},{"x":650.4,"y":33425,"label":"Normal driving test"}]},
     "mark":{"type":"text","fontSize":21,"color":"#111","baseline":"middle"},
     "encoding":{"x":{"field":"x","type":"quantitative","scale":{"domain":[0,630],"nice":false},"axis":{"values":[0,100,200,300,400,500,600],"title":"Time (s)"}},"y":{"field":"y","type":"quantitative","scale":{"domain":[0,30000],"nice":false},"axis":null},"text":{"field":"label"}}},
    {"data":{"values":[{"x":401.5,"y":28460,"label":"3rd-gear position"},{"x":506.6,"y":28460,"label":"2nd-gear position"}]},
     "mark":{"type":"text","fontSize":11,"color":"#333","baseline":"middle"},
     "encoding":{"x":{"field":"x","type":"quantitative","scale":{"domain":[0,630],"nice":false},"axis":{"values":[0,100,200,300,400,500,600],"title":"Time (s)"}},"y":{"field":"y","type":"quantitative","scale":{"domain":[0,30000],"nice":false},"axis":null},"text":{"field":"label"}}}
  ]}
 ]
},
{
 "width":588,"height":243,
 "resolve":{"scale":{"y":"independent"}},
 "layer":[
  {"data":{"name":"es"},"mark":{"type":"line","strokeWidth":1.5},
   "encoding":{
    "x":{"field":"t","type":"quantitative","scale":{"domain":[0,630],"nice":false},"axis":{"values":[0,100,200,300,400,500,600],"title":"Time (s)"}},
    "y":{"field":"v","type":"quantitative","scale":{"domain":[0,9000],"nice":false},"axis":{"orient":"left","values":[0,1000,2000,3000,4000,5000,6000,7000,8000,9000],"format":"d","title":"Engine speed (rpm)","titlePadding":21,"grid":true}},
    "color":{"datum":"Engine speed","type":"nominal","scale":{"domain":["Engine speed","Air flow rate"],"range":["#4a7ebb","#c0504d"]},"legend":{"legendX":2,"legendY":331}}
   }},
  {"data":{"name":"af"},"mark":{"type":"line","strokeWidth":1.5},
   "encoding":{
    "x":{"field":"t","type":"quantitative","scale":{"domain":[0,630],"nice":false},"axis":{"values":[0,100,200,300,400,500,600],"title":"Time (s)"}},
    "y":{"field":"v","type":"quantitative","scale":{"domain":[0,6],"nice":false},"axis":{"orient":"right","values":[0,1,2,3,4,5,6],"title":"Air flow rate (m³/min)","titleAngle":270,"titleBaseline":"top","titlePadding":15,"grid":false}},
    "color":{"datum":"Air flow rate","type":"nominal"}
   }},
  {"data":{"values":[{"x":143,"y1":9000,"y2":-6700},{"x":351,"y1":9000,"y2":-6700},{"x":451.5,"y1":9000,"y2":-6700},{"x":520,"y1":9000,"y2":-6700},{"x":557.5,"y1":9000,"y2":-6700}]},
   "mark":{"type":"rule","color":"#000","strokeWidth":1.3},
   "encoding":{"x":{"field":"x","type":"quantitative","scale":{"domain":[0,630],"nice":false},"axis":{"values":[0,100,200,300,400,500,600],"title":"Time (s)"}},"y":{"field":"y1","type":"quantitative","scale":{"domain":[0,9000],"nice":false},"axis":null},"y2":{"field":"y2"}}}
 ]
},
{
 "width":588,"height":254,
 "resolve":{"scale":{"y":"independent"}},
 "layer":[
  {"data":{"name":"vo"},"mark":{"type":"line","strokeWidth":1.5},
   "encoding":{
    "x":{"field":"t","type":"quantitative","scale":{"domain":[0,630],"nice":false},"axis":{"values":[0,100,200,300,400,500,600],"title":"Time (s)"}},
    "y":{"field":"v","type":"quantitative","scale":{"domain":[0,50],"nice":false},"axis":{"orient":"left","values":[0,5,10,15,20,25,30,35,40,45,50],"title":"Voltage (V)","titlePadding":38,"grid":true}},
    "color":{"datum":"Voltage","type":"nominal","scale":{"domain":["Voltage","Current"],"range":["#000000","#e97a2e"]},"legend":{"legendX":-6,"legendY":339}},
    "strokeDash":{"datum":"Voltage","type":"nominal","scale":{"domain":["Voltage","Current"],"range":[[1,0],[8,5]]},"legend":{"legendX":-6,"legendY":339}}
   }},
  {"data":{"name":"cu"},"mark":{"type":"line","strokeWidth":1.5},
   "encoding":{
    "x":{"field":"t","type":"quantitative","scale":{"domain":[0,630],"nice":false},"axis":{"values":[0,100,200,300,400,500,600],"title":"Time (s)"}},
    "y":{"field":"v","type":"quantitative","scale":{"domain":[0,4],"nice":false},"axis":{"orient":"right","values":[0,0.5,1,1.5,2,2.5,3,3.5,4],"format":"~g","title":"Current (A)","titleAngle":270,"titleBaseline":"top","titlePadding":15,"grid":false}},
    "color":{"datum":"Current","type":"nominal"},
    "strokeDash":{"datum":"Current","type":"nominal"}
   }},
  {"layer":[
    {"data":{"values":[{"x":143,"y1":50,"y2":0},{"x":351,"y1":50,"y2":0},{"x":451.5,"y1":50,"y2":0},{"x":520,"y1":50,"y2":0},{"x":557.5,"y1":50,"y2":0}]},
     "mark":{"type":"rule","color":"#000","strokeWidth":1.3},
     "encoding":{"x":{"field":"x","type":"quantitative","scale":{"domain":[0,630],"nice":false},"axis":{"values":[0,100,200,300,400,500,600],"title":"Time (s)"}},"y":{"field":"y1","type":"quantitative","scale":{"domain":[0,50],"nice":false},"axis":null},"y2":{"field":"y2"}}},
    {"data":{"values":[{"x":69.7,"y":43.5,"label":"100 W/48 V"},{"x":256.6,"y":43.5,"label":"75 W/24 V"},{"x":403,"y":43.5,"label":"100 W/48 V"},{"x":484,"y":43.5,"label":"75 W/24 V"},{"x":538.4,"y":43.5,"label":"100 W/"},{"x":538.4,"y":41,"label":"48 V"},{"x":593.6,"y":43.5,"label":"75 W/24 V"}]},
     "mark":{"type":"text","fontSize":11.5,"color":"#333","baseline":"middle"},
     "encoding":{"x":{"field":"x","type":"quantitative","scale":{"domain":[0,630],"nice":false},"axis":{"values":[0,100,200,300,400,500,600],"title":"Time (s)"}},"y":{"field":"y","type":"quantitative","scale":{"domain":[0,50],"nice":false},"axis":null},"text":{"field":"label"}}}
  ]}
 ]
}
]
}
